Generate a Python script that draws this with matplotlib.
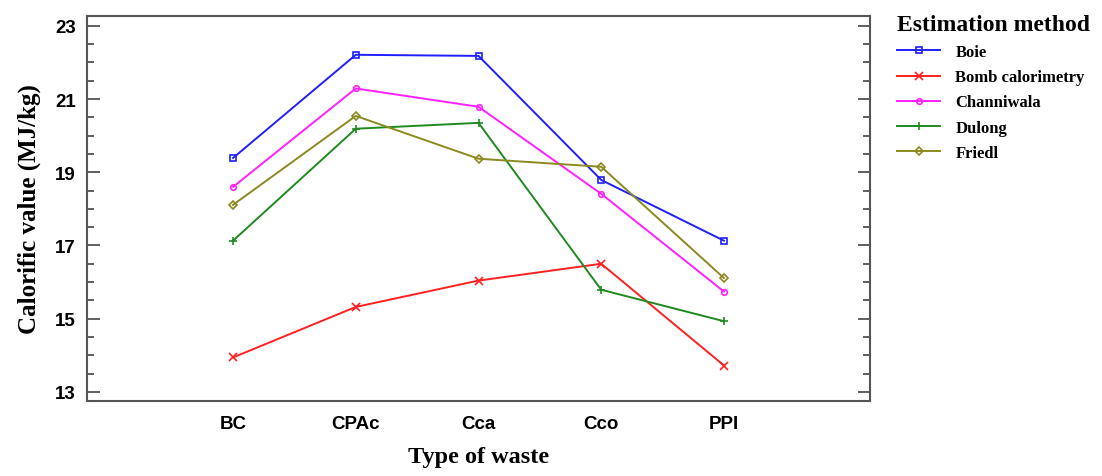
import numpy as np
import matplotlib.pyplot as plt
from matplotlib.ticker import MultipleLocator

# tipi di rifiuto e metodi di stima
waste = ['BC', 'CPAc', 'Cca', 'Cco', 'PPI']
boie = [19.39, 22.21, 22.18, 18.79, 17.13]
bomb = [13.94, 15.32, 16.04, 16.50, 13.72]
channiwala = [18.60, 21.29, 20.79, 18.41, 15.74]
dulong = [17.13, 20.19, 20.35, 15.79, 14.93]
friedl = [18.11, 20.54, 19.37, 19.15, 16.11]

methods = ['Boie', 'Bomb calorimetry', 'Channiwala', 'Dulong', 'Friedl']
series = [boie, bomb, channiwala, dulong, friedl]
colors = ['#1f1fff', '#ff2020', '#ff20ff', '#208a20', '#8a8a20']
markers = ['s', 'x', 'o', '+', 'D']

serif = 'Liberation Serif'
sans = 'Liberation Sans'

fig = plt.figure(figsize=(11.02, 4.77), dpi=100)
ax = fig.add_axes([87/1102, 75/477, 783/1102, 385/477])

x = np.arange(len(waste))
for vals, name, c, m in zip(series, methods, colors, markers):
    ms = 4 if m in ('s', 'o', 'D') else 6
    ax.plot(x, vals, color=c, lw=1.4, marker=m, ms=ms,
            mfc='none', mec=c, mew=1.2, label=name)

ax.set_xlim(-1.19, 4 + 1.19)
ax.set_ylim(12.75, 23.27)
ax.set_xticks(x)
ax.set_xticklabels(waste, fontfamily=sans, fontweight='bold', fontsize=13.5)
ax.tick_params(axis='x', length=0, pad=10)
ax.yaxis.set_major_locator(MultipleLocator(2))
ax.yaxis.set_minor_locator(MultipleLocator(0.5))
ax.set_yticks(np.arange(13, 24, 2))
ax.set_yticklabels([str(v) for v in range(13, 24, 2)],
                   fontfamily=sans, fontweight='bold', fontsize=13.5)
ax.tick_params(axis='y', which='major', direction='in', length=9,
               width=1.2, color='#444444', right=True, pad=8)
ax.tick_params(axis='y', which='minor', direction='in', length=5,
               width=1.2, color='#444444', right=True)
for s in ax.spines.values():
    s.set_color('#555555')
    s.set_linewidth(1.5)

ax.set_xlabel('Type of waste', fontfamily=serif, fontweight='bold',
              fontsize=17.5, labelpad=10)
ax.set_ylabel('Calorific value (MJ/kg)', fontfamily=serif, fontweight='bold',
              fontsize=18, labelpad=10)

leg = fig.legend(loc='upper left', bbox_to_anchor=(882/1102, 1.0),
                 frameon=False, title='Estimation method',
                 prop={'family': serif, 'weight': 'bold', 'size': 12},
                 handlelength=2.6, labelspacing=0.55, handletextpad=0.9)
leg.get_title().set_fontfamily(serif)
leg.get_title().set_fontweight('bold')
leg.get_title().set_fontsize(17)
leg._legend_box.align = 'left'

fig.savefig('out.png', dpi=100)
